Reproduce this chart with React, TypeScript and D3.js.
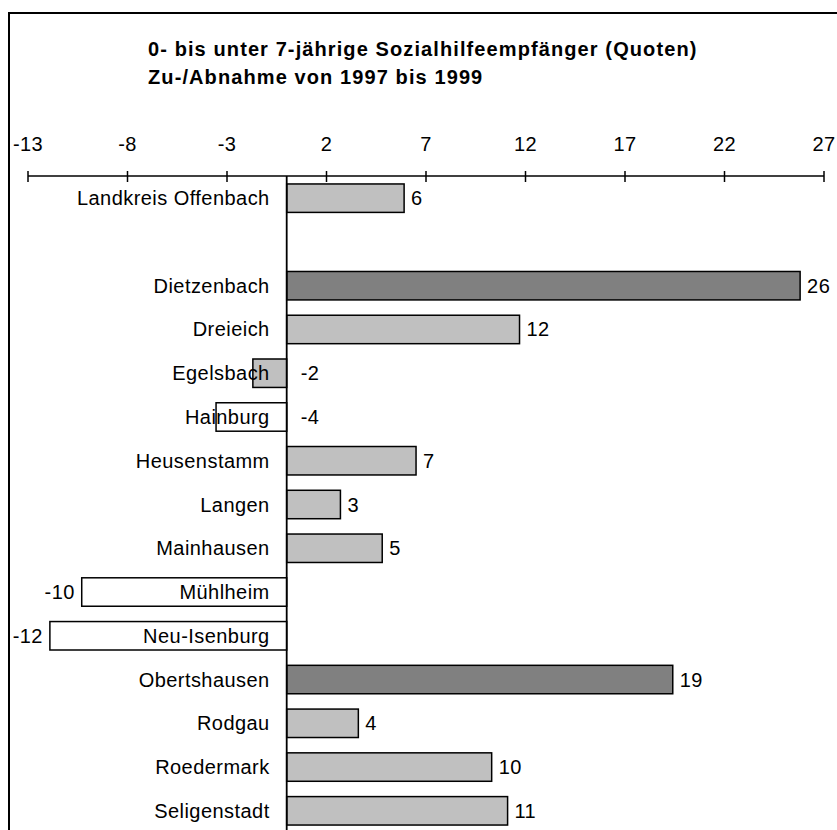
import React from "react";
import * as d3 from "d3";

// Municipalities in the district (blank entry = gap after the district total)
const categories: string[] = [
  "Landkreis Offenbach",
  "",
  "Dietzenbach",
  "Dreieich",
  "Egelsbach",
  "Hainburg",
  "Heusenstamm",
  "Langen",
  "Mainhausen",
  "Mühlheim",
  "Neu-Isenburg",
  "Obertshausen",
  "Rodgau",
  "Roedermark",
  "Seligenstadt",
];

// Change of the rate (percentage points), 1997 to 1999
const changes: (number | null)[] = [
  5.9, null, 25.8, 11.7, -1.7, -3.55, 6.5, 2.7, 4.8, -10.3, -11.9, 19.4, 3.6, 10.3, 11.1,
];

const tickValues: number[] = [-13, -8, -3, 2, 7, 12, 17, 22, 27];

const titleLines: string[] = [
  "0- bis unter 7-jährige Sozialhilfeempfänger (Quoten)",
  "Zu-/Abnahme von 1997 bis 1999",
];

const W = 837;
const H = 830;
const FONT = "'Liberation Sans', Arial, Helvetica, sans-serif";

const locale = d3.formatLocale({
  decimal: ",",
  thousands: ".",
  grouping: [3],
  currency: ["", " €"],
  minus: "-",
});

export default function App() {
  const x = d3.scaleLinear().domain([-13, 27]).range([28, 824]);
  const y = d3
    .scaleBand<string>()
    .domain(categories.map((_, i) => String(i)))
    .range([176.3, 832.7])
    .paddingInner(0.35)
    .paddingOuter(0.175);
  const fill = d3
    .scaleThreshold<number, string>()
    .domain([-3, 15])
    .range(["#ffffff", "#c0c0c0", "#808080"]);
  const fmt = locale.format(".0f");
  const x0 = x(0);
  const axisY = 176;

  return (
    <svg
      width={W}
      height={H}
      style={{ position: "absolute", left: 0, top: 0, display: "block", background: "#fff" }}
      fontFamily={FONT}
    >
      <rect x={0} y={0} width={W} height={H} fill="#fff" />
      {/* chart frame */}
      <path d={`M9,${H + 2}V13H${W + 2}`} fill="none" stroke="#000" strokeWidth={2} />

      {/* title */}
      {titleLines.map((t, i) => (
        <text
          key={i}
          x={148}
          y={56 + i * 28}
          fontSize={20}
          fontWeight="bold"
          letterSpacing={1.1}
          fill="#000"
        >
          {t}
        </text>
      ))}

      {/* top value axis */}
      <line x1={x(-13)} x2={x(27)} y1={axisY} y2={axisY} stroke="#000" strokeWidth={1.5} />
      {tickValues.map((v) => (
        <g key={v}>
          <line x1={x(v)} x2={x(v)} y1={axisY - 5} y2={axisY + 6} stroke="#000" strokeWidth={1.5} />
          <text x={x(v)} y={151} textAnchor="middle" fontSize={20} letterSpacing={0.4} fill="#000">
            {fmt(v)}
          </text>
        </g>
      ))}

      {/* bars */}
      {categories.map((c, i) => {
        const v = changes[i];
        if (v == null) return null;
        const by = y(String(i))!;
        return (
          <rect
            key={c}
            x={Math.min(x(v), x0)}
            y={by}
            width={Math.abs(x(v) - x0)}
            height={y.bandwidth()}
            fill={fill(v)}
            stroke="#000"
            strokeWidth={1.5}
          />
        );
      })}

      {/* zero line */}
      <line x1={x0} x2={x0} y1={axisY} y2={H + 2} stroke="#000" strokeWidth={1.8} />

      {/* category labels */}
      {categories.map((c, i) => (
        <text
          key={"c" + i}
          x={x0 - 17}
          y={y(String(i))! + y.bandwidth() / 2}
          dy="0.35em"
          textAnchor="end"
          fontSize={20}
          letterSpacing={0.45}
          fill="#000"
        >
          {c}
        </text>
      ))}

      {/* value labels */}
      {categories.map((c, i) => {
        const v = changes[i];
        if (v == null) return null;
        const cy = y(String(i))! + y.bandwidth() / 2;
        let lx: number;
        let anchor: "start" | "end" = "start";
        if (v >= 0) lx = x(v) + 7;
        else if (v > -5) lx = x0 + 14;
        else {
          lx = x(v) - 7;
          anchor = "end";
        }
        return (
          <text
            key={"v" + i}
            x={lx}
            y={cy}
            dy="0.35em"
            textAnchor={anchor}
            fontSize={20}
            letterSpacing={0.4}
            fill="#000"
          >
            {fmt(v)}
          </text>
        );
      })}
    </svg>
  );
}
